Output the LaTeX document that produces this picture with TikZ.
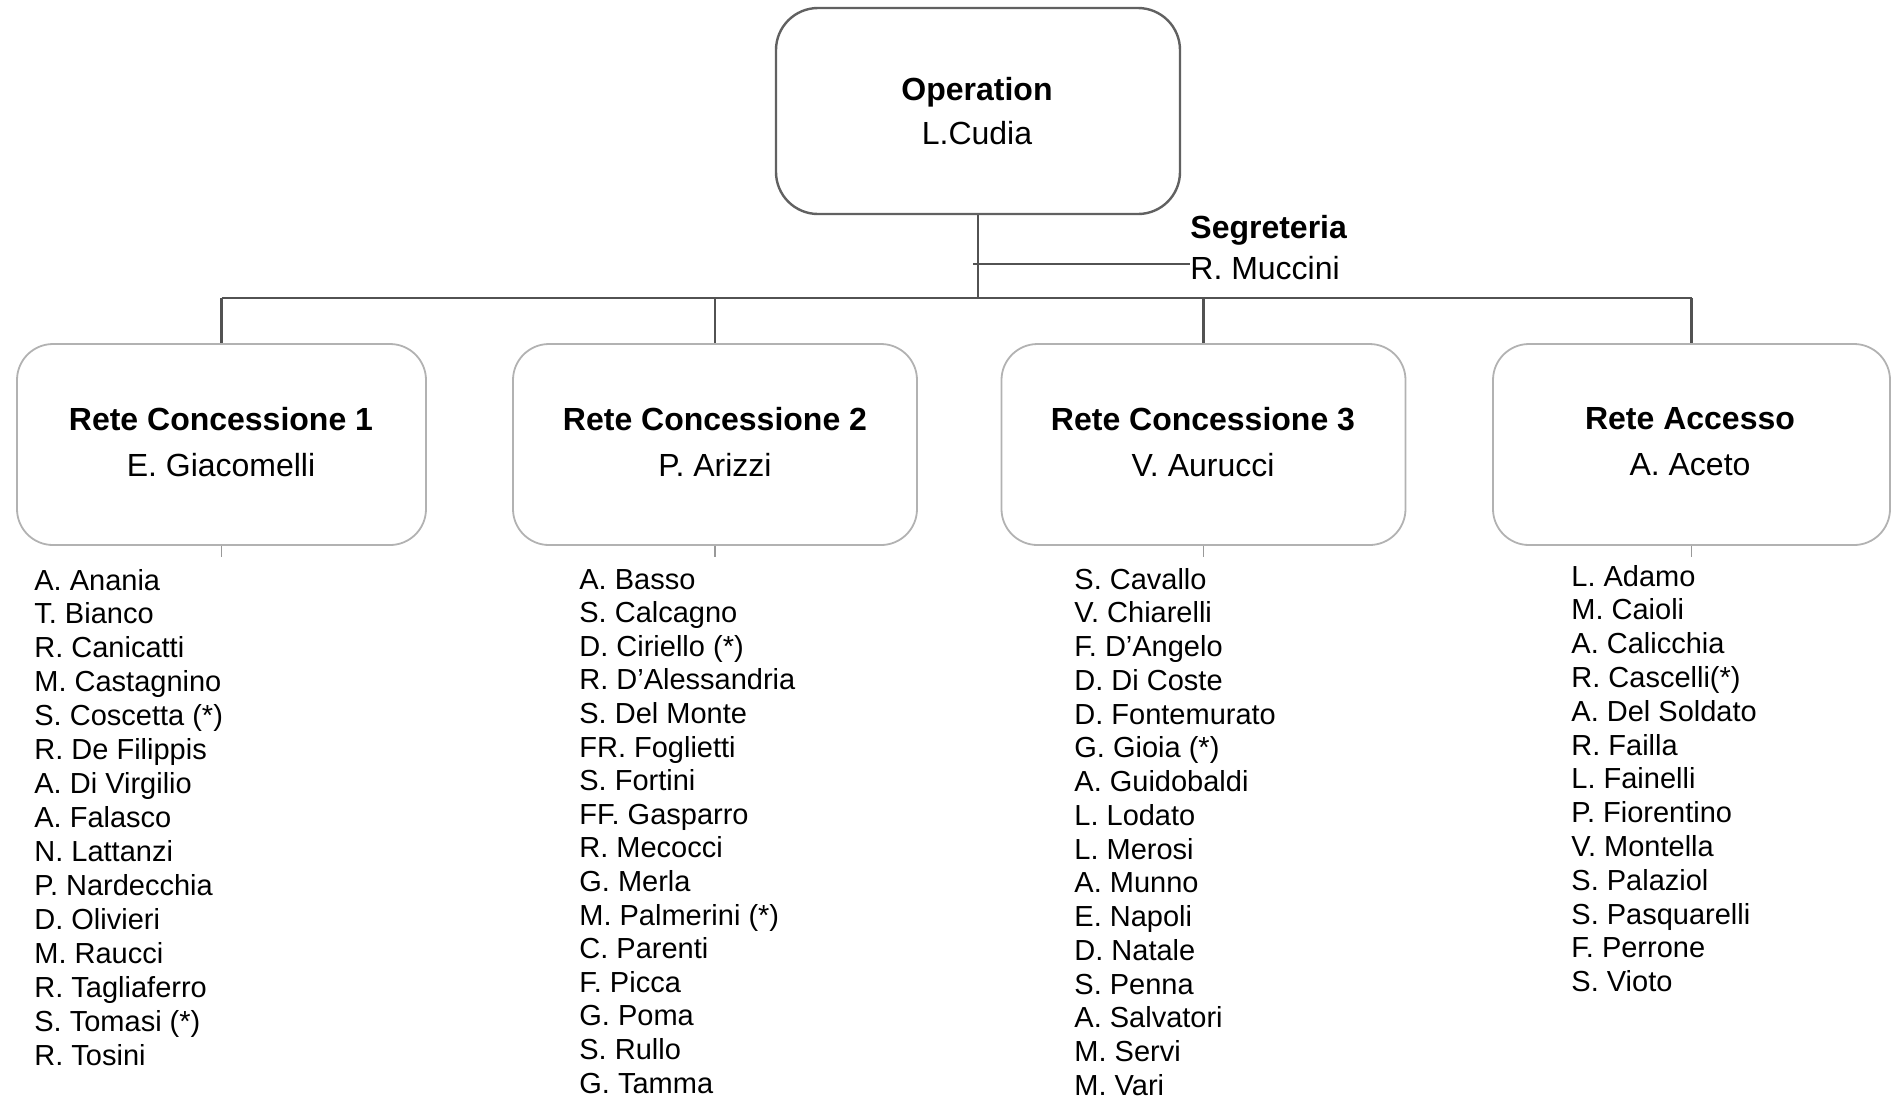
\documentclass[tikz,border=0pt]{standalone}
\usepackage{fontspec}
\setmainfont{Liberation Sans}
\begin{document}
\begin{tikzpicture}[x=0.5pt,y=-0.5pt,
  conn/.style={draw=black!68,line width=1.3pt},
  topbox/.style={draw=black!62,line width=1.2pt,rounded corners=21pt,minimum width=202pt,minimum height=103pt,inner sep=0pt},
  unitbox/.style={draw=black!30,line width=0.9pt,rounded corners=18pt,minimum width=202pt,minimum height=100.5pt,inner sep=0pt},
  head/.style={font=\fontsize{16}{19}\selectfont\bfseries,inner sep=0pt},
  who/.style={font=\fontsize{16}{19}\selectfont,inner sep=0pt},
  item/.style={font=\fontsize{14.5}{17}\selectfont,inner sep=0pt,anchor=base west}]
\useasboundingbox (0,0) rectangle (1892,1100);
% top box
\node[topbox] (top) at (978,111) {};
\node[head] (topt) at (977,92) {Operation};
\node[who] (topn) at (977,133) {L.Cudia};
% segreteria
\node[head,anchor=west] (segt) at (1190,230) {Segreteria};
\node[who,anchor=west] (segn) at (1190,268) {R. Muccini};
\coordinate (bus) at (977,298);
\coordinate (segl) at (973,264);
% unit boxes
\node[unitbox,minimum width=204.5pt] (b1) at (221.5,444.5) {};
\node[unitbox] (b2) at (715,444.5) {};
\node[unitbox] (b3) at (1203.5,444.5) {};
\node[unitbox,minimum width=198.5pt] (b4) at (1691.5,444.5) {};
\node[head] (h1) at (221,419) {Rete Concessione 1};
\node[who]  (n1) at (221,465) {E. Giacomelli};
\node[head] (h2) at (715,419) {Rete Concessione 2};
\node[who]  (n2) at (715,465) {P. Arizzi};
\node[head] (h3) at (1203,419) {Rete Concessione 3};
\node[who]  (n3) at (1203,465) {V. Aurucci};
\node[head] (h4) at (1690,419) {Rete Accesso};
\node[who]  (n4) at (1690,465) {A. Aceto};
% connectors
\draw[conn] (top.south) -- (top.south |- bus);
\draw[conn] (segl) -- (segl -| segn.west);
\draw[conn] (b1.north |- bus) -- (b4.north |- bus);
\foreach \b in {b1,b2,b3,b4}{
  \draw[conn] (\b.north |- bus) -- (\b.north);
  \draw[draw=black!40,line width=0.7pt] (\b.south) -- ++(0,11);
}
% lists
\foreach \t [count=\i from 0] in {A. Anania,T. Bianco,R. Canicatti,M. Castagnino,S. Coscetta (*),R. De Filippis,A. Di Virgilio,A. Falasco,N. Lattanzi,P. Nardecchia,D. Olivieri,M. Raucci,R. Tagliaferro,S. Tomasi (*),R. Tosini}
  \node[item] (la\i) at (34,{590+33.96*\i}) {\t};
\foreach \t [count=\i from 0] in {A. Basso,S. Calcagno,D. Ciriello (*),R. D'Alessandria,S. Del Monte,FR. Foglietti,S. Fortini,FF. Gasparro,R. Mecocci,G. Merla,M. Palmerini (*),C. Parenti,F. Picca,G. Poma,S. Rullo,G. Tamma}
  \node[item] (lb\i) at (579,{589+33.6*\i}) {\t};
\foreach \t [count=\i from 0] in {S. Cavallo,V. Chiarelli,F. D'Angelo,D. Di Coste,D. Fontemurato,G. Gioia (*),A. Guidobaldi,L. Lodato,L. Merosi,A. Munno,E. Napoli,D. Natale,S. Penna,A. Salvatori,M. Servi,M. Vari}
  \node[item] (lc\i) at (1074,{589+33.75*\i}) {\t};
\foreach \t [count=\i from 0] in {L. Adamo,M. Caioli,A. Calicchia,R. Cascelli(*),A. Del Soldato,R. Failla,L. Fainelli,P. Fiorentino,V. Montella,S. Palaziol,S. Pasquarelli,F. Perrone,S. Vioto}
  \node[item] (ld\i) at (1571,{586+33.8*\i}) {\t};
\end{tikzpicture}
\end{document}
